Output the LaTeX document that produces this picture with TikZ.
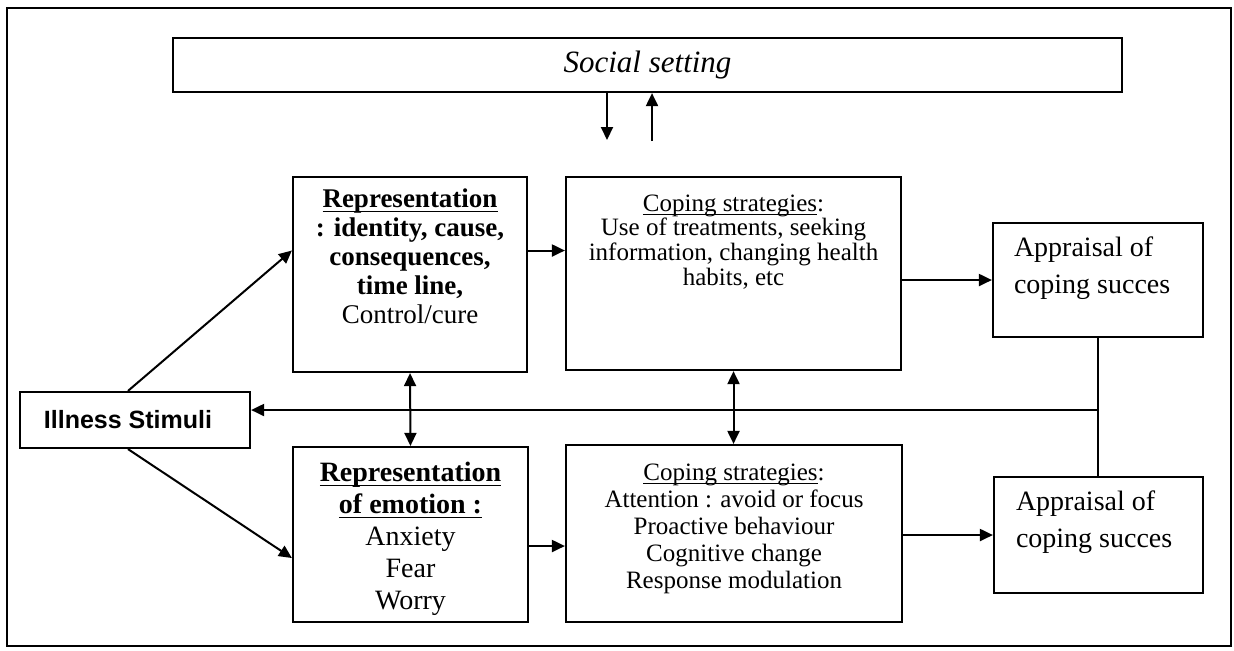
\documentclass[tikz,border=0pt]{standalone}
\usepackage{amsmath}
\usepackage{fontspec}
\setmainfont{Liberation Serif}
\setsansfont{Liberation Sans}
\usepackage{tikz}
\usetikzlibrary{arrows.meta,positioning,calc}
\newcommand{\uln}[1]{\underline{\smash[b]{#1}}}

\begin{document}
\begin{tikzpicture}[x=0.5pt,y=-0.5pt,>={Triangle[length=6.5pt,width=6pt]},line width=1pt]
\tikzstyle{block}=[draw,line width=1.1pt,inner sep=0pt]
\tikzstyle{txt}=[align=center,inner sep=0pt]
\useasboundingbox (0,0) rectangle (1234,650);
\draw[line width=0.8pt] (7,8) rectangle (1231,646);
\node[block,minimum width=474.5pt,minimum height=27pt,font=\fontsize{15.5}{18}\selectfont\itshape] (social) at (647.5,65) {Social setting};
\node[block,minimum width=117pt,minimum height=97.5pt] (rep) at (410,274.5) {};
\node[txt,font=\bfseries\fontsize{13.5}{14.5}\selectfont] (reptxt) at (410,256) {\uln{Representation}\\: identity, cause,\\consequences,\\time line,\\\mdseries Control/cure};
\node[block,minimum width=167.5pt,minimum height=96.5pt] (cop1) at (733.5,273.5) {};
\node[txt,font=\fontsize{12.5}{12.4}\selectfont] (cop1txt) at (733.5,242) {\uln{Coping strategies}:\\Use of treatments, seeking\\information, changing health\\habits, etc};
\node[block,minimum width=105pt,minimum height=57pt] (app1) at (1098,280) {};
\node[txt,align=left,anchor=west,font=\fontsize{14}{18.5}\selectfont] (app1txt) at (1013,268.5) {Appraisal of\\coping succes};
\node[block,minimum width=115pt,minimum height=28pt] (ill) at (135,420) {};
\node[txt,font=\sffamily\bfseries\fontsize{12.5}{14}\selectfont] (illtxt) at (128,420) {Illness Stimuli};
\node[block,minimum width=117.5pt,minimum height=87.5pt] (emo) at (410.5,534.5) {};
\node[txt,font=\fontsize{14}{16}\selectfont] (emotxt) at (410.5,538.5) {\textbf{\uln{Representation}}\\\textbf{\uln{of emotion :}}\\Anxiety\\Fear\\Worry};
\node[block,minimum width=168pt,minimum height=88.5pt] (cop2) at (734,533.5) {};
\node[txt,font=\fontsize{12.5}{13.5}\selectfont] (cop2txt) at (734,528.5) {\uln{Coping strategies}:\\Attention : avoid or focus\\Proactive behaviour\\Cognitive change\\Response modulation};
\node[block,minimum width=104.5pt,minimum height=58pt] (app2) at (1098.5,535) {};
\node[txt,align=left,anchor=west,font=\fontsize{14}{18.5}\selectfont] (app2txt) at (1015,522.5) {Appraisal of\\coping succes};
\coordinate (r1) at ([yshift=12pt]rep.east);
\coordinate (e1) at ([yshift=-5.75pt]emo.east);
\coordinate (fb) at (app1.south |- 0,410);
\coordinate (s1) at (607,140);
\coordinate (s2) at (652,141);
\draw[->] ([xshift=-3.5pt]ill.north) -- ([yshift=12pt]rep.west);
\draw[->] ([xshift=-3.5pt]ill.south) -- ([yshift=-11.75pt]emo.west);
\draw[->] (r1) -- (r1 -| cop1.west);
\draw[->] (e1) -- (e1 -| cop2.west);
\draw[->] (cop1.east |- app1.west) -- (app1.west);
\draw[->] (cop2.east |- app2.west) -- (app2.west);
\draw[<->] (rep.south) -- (emo.north);
\draw[<->] (cop1.south) -- (cop1.south |- cop2.north);
\draw (app1.south) -- (app1.south |- app2.north);
\draw[->] (fb) -- (fb -| ill.east);
\draw[->] (social.south -| s1) -- (s1);
\draw[->] (s2) -- (s2 |- social.south);
\end{tikzpicture}
\end{document}
